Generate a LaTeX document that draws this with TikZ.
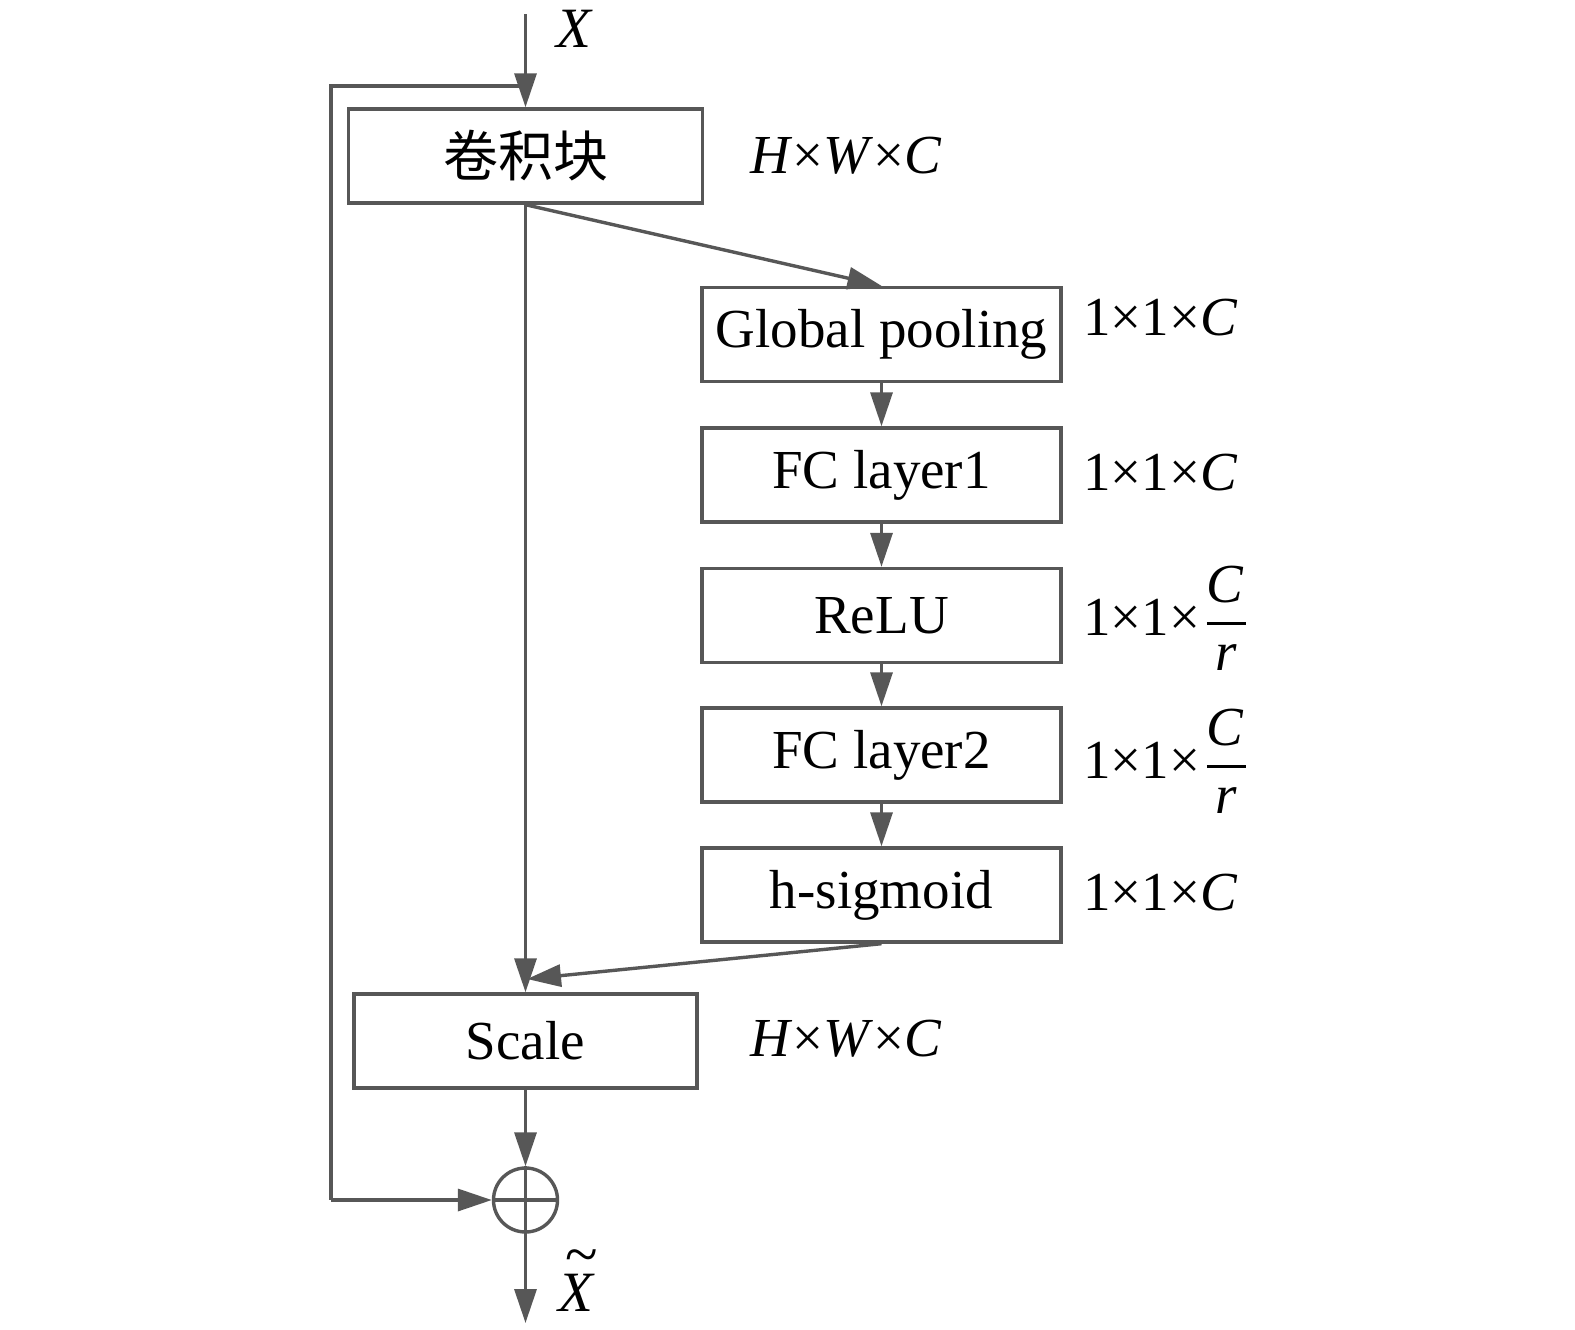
\documentclass[tikz,border=0pt]{standalone}
\usepackage{amsmath}
\usepackage{fontspec}
\setmainfont{Liberation Serif}
\newfontfamily\cjk{Noto Sans CJK SC}
\usetikzlibrary{arrows.meta}
\definecolor{lc}{HTML}{575757}
\newcommand{\fs}{\fontsize{27.5}{33}\selectfont}
\newcommand{\myfrac}{\genfrac{}{}{1.5pt}{0}{\textit{C}\kern1pt}{\textit{r}}}
\begin{document}
\begin{tikzpicture}[x=0.5pt,y=-0.5pt,
  ln/.style={draw=lc, line width=1.7pt},
  box/.style={ln, rectangle, inner sep=0pt, minimum height=47pt, text=black, font=\fs},
  arr/.style={ln, -{Triangle[length=17pt,width=11pt]}},
  dim/.style={font=\fs, inner sep=0pt, anchor=west}]
\useasboundingbox (0,0) rectangle (1575,1329);
% boxes
\node[box, minimum width=177pt] (conv) at (525.5,156) {\cjk 卷积块};
\node[box, minimum width=179.5pt] (gp) at (881.5,334.5) {Global pooling};
\node[box, minimum width=179.5pt] (fc1) at (881.5,475) {FC layer1};
\node[box, minimum width=179.5pt] (relu) at (881.5,615.5) {ReLU};
\node[box, minimum width=179.5pt] (fc2) at (881.5,755) {FC layer2};
\node[box, minimum width=179.5pt] (hs) at (881.5,895) {h-sigmoid};
\node[box, minimum width=171.5pt] (scale) at (525.5,1041) {Scale};
\node[circle, ln, minimum size=32pt, inner sep=0pt] (sum) at (525.5,1200) {};
\draw[ln] (sum.north) -- (sum.south);
\draw[ln] (sum.west) -- (sum.east);
% coordinates
\coordinate (xin) at (525.5,14);
\coordinate (xout) at (525.5,1323);
\coordinate (lt) at (331,86);
\coordinate (lb) at (331,1200);
\coordinate (m) at (527,979);
% connectors
\draw[arr] (xin) -- (conv.north);
\draw[ln] (conv.north |- lt) -- (lt) -- (lb);
\draw[arr] (lb) -- (sum.west);
\draw[arr] (conv.south) -- (gp.north);
\draw[arr] (gp) -- (fc1);
\draw[arr] (fc1) -- (relu);
\draw[arr] (relu) -- (fc2);
\draw[arr] (fc2) -- (hs);
\draw[arr] (conv.south) -- (scale.north);
\draw[arr] (hs.south) -- (m);
\draw[arr] (scale.south) -- (sum.north);
\draw[arr] (sum.south) -- (xout);
% labels
\node[font=\fontsize{28.5}{33}\selectfont, inner sep=0pt] (lx) at (575,29) {\textit{X}};
\node[font=\fontsize{28.5}{33}\selectfont, inner sep=0pt] (lxo) at (577,1293) {\textit{X}};
\node[font=\fontsize{30}{33}\selectfont, inner sep=0pt] (ltl) at (582,1262) {\textasciitilde};
\node[dim] (d1) at (750,156) {\textit{H}×\textit{W}×\textit{C}};
\node[dim] (d2) at (1083,318) {1×1×\textit{C}};
\node[dim] (d3) at (1083,473) {1×1×\textit{C}};
\node[dim] (d4) at (1083,618) {1×1×\kern2pt$\displaystyle\myfrac$};
\node[dim] (d5) at (1083,761) {1×1×\kern2pt$\displaystyle\myfrac$};
\node[dim] (d6) at (1083,893) {1×1×\textit{C}};
\node[dim] (d7) at (750,1039) {\textit{H}×\textit{W}×\textit{C}};
\end{tikzpicture}
\end{document}
